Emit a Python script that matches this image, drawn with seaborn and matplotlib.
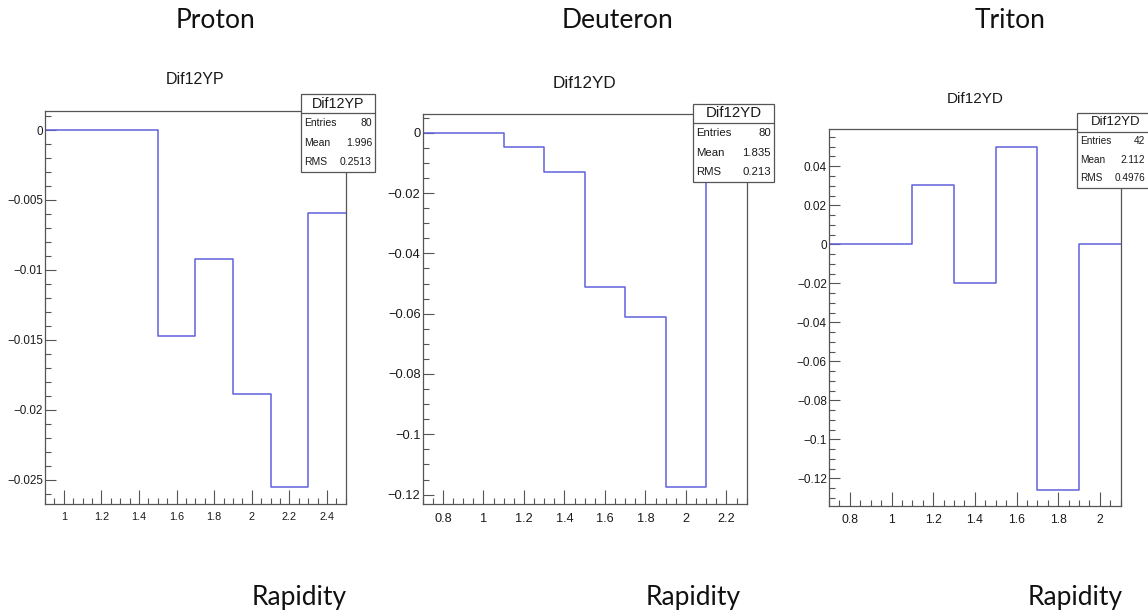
import numpy as np
import pandas as pd
import matplotlib
matplotlib.use("Agg")
import matplotlib.pyplot as plt
import seaborn as sns
from matplotlib.ticker import MultipleLocator, FuncFormatter
from matplotlib.patches import Rectangle
from matplotlib.lines import Line2D

# ---------------- data ----------------
panel_names = ["Proton", "Deuteron", "Triton"]
hist_titles = ["Dif12YP", "Dif12YD", "Dif12YD"]
x_label = "Rapidity"

proton_edges = [0.9, 1.1, 1.3, 1.5, 1.7, 1.9, 2.1, 2.3, 2.5]
proton_values = [0.0, 0.0, 0.0, -0.0147, -0.0092, -0.0189, -0.0255, -0.0059]

deuteron_edges = [0.7, 0.9, 1.1, 1.3, 1.5, 1.7, 1.9, 2.1, 2.3]
deuteron_values = [0.0, 0.0, -0.0049, -0.0129, -0.0510, -0.0610, -0.1174, -0.0100]

triton_edges = [0.7, 0.9, 1.1, 1.3, 1.5, 1.7, 1.9, 2.1]
triton_values = [0.0, 0.0, 0.0304, -0.0200, 0.0500, -0.1260, 0.0]

stat_entries = ["80", "80", "42"]
stat_means = ["1.996", "1.835", "2.112"]
stat_rms = ["0.2513", "0.213", "0.4976"]

# ---------------- layout (pixels) ----------------
W, H = 1148, 615
fig = plt.figure(figsize=(W / 100, H / 100), dpi=100)
sns.set_style("white")
plt.rcParams["font.family"] = ["Liberation Sans", "DejaVu Sans"]

def fx(px):
    return px / W

def fy(py):
    return 1 - py / H

# frame boxes: left, top, right, bottom
frames = [(45, 111, 345.7, 504), (422.7, 114.3, 746.7, 504.3), (829, 129, 1120.7, 506)]
ylims = [(-0.02675, 0.00136), (-0.1232, 0.0061), (-0.1342, 0.0591)]
xlims = [(0.9, 2.5), (0.7, 2.3), (0.7, 2.1)]
ymajor = [0.005, 0.02, 0.02]
yminor = [0.001, 0.005, 0.005]
xlabsize = [7.8, 9.2, 8.7]
ylabsize = [8.4, 9.3, 8.5]
title_pos = [(195, 79, 11.5), (585, 83, 12.3), (975, 99, 11.0)]
# stat boxes: left, top, right, bottom, separator y, header size, row size
stat_boxes = [(300.7, 94.3, 375, 172.3, 112.7, 10.3, 7.5),
              (692.7, 104, 774, 182.3, 122.7, 10.8, 8.2),
              (1076.7, 112.7, 1152, 187.7, 131.7, 9.5, 7.2)]
header_x = [216, 617, 1010]
rapidity_x = [299, 693, 1075]

all_edges = [proton_edges, deuteron_edges, triton_edges]
all_values = [proton_values, deuteron_values, triton_values]

line_color = "#6060dc"
frame_color = "#555555"
text_color = "#1a1a1a"

def fmt(v, pos):
    v = round(v, 6)
    if abs(v) < 1e-12:
        return "0"
    s = "%g" % abs(v)
    return ("\u2212" + s) if v < 0 else s

for i in range(3):
    l, t, r, b = frames[i]
    ax = fig.add_axes([fx(l), fy(b), fx(r) - fx(l), (b - t) / H])
    edges = list(all_edges[i])
    vals = list(all_values[i])
    # step outline: each bin value starts at its left edge; repeat last value at right edge
    df = pd.DataFrame({"rapidity": edges, "diff": vals + [vals[-1]]})
    sns.lineplot(data=df, x="rapidity", y="diff", estimator=None, sort=False,
                 drawstyle="steps-post", color=line_color, linewidth=1.1,
                 ax=ax, legend=False)
    ax.set_xlim(*xlims[i])
    ax.set_ylim(*ylims[i])
    ax.set_xlabel("")
    ax.set_ylabel("")
    ax.xaxis.set_major_locator(MultipleLocator(0.2))
    ax.xaxis.set_minor_locator(MultipleLocator(0.05))
    ax.yaxis.set_major_locator(MultipleLocator(ymajor[i]))
    ax.yaxis.set_minor_locator(MultipleLocator(yminor[i]))
    ax.xaxis.set_major_formatter(FuncFormatter(fmt))
    ax.yaxis.set_major_formatter(FuncFormatter(fmt))
    for s in ax.spines.values():
        s.set_color(frame_color)
        s.set_linewidth(0.9)
        s.set_visible(True)
    ax.tick_params(axis="x", which="major", direction="in", length=10, width=0.8,
                   color=frame_color, labelsize=xlabsize[i], pad=6, top=False,
                   bottom=True, labelcolor=text_color)
    ax.tick_params(axis="x", which="minor", direction="in", length=4.5, width=0.8,
                   color=frame_color, top=False, bottom=True)
    ax.tick_params(axis="y", which="major", direction="in", length=8, width=0.8,
                   color=frame_color, labelsize=ylabsize[i], pad=1.5, right=False,
                   left=True, labelcolor=text_color)
    ax.tick_params(axis="y", which="minor", direction="in", length=4, width=0.8,
                   color=frame_color, right=False, left=True)
    ax.grid(False)

    # histogram title
    tx, ty, ts = title_pos[i]
    fig.text(fx(tx), fy(ty), hist_titles[i], ha="center", va="center",
             fontsize=ts, color=text_color)

    # stat box
    bl, bt, br, bb, bsep, hs, rs = stat_boxes[i]
    rect = Rectangle((fx(bl), fy(bb)), fx(br) - fx(bl), (bb - bt) / H,
                     transform=fig.transFigure, facecolor="white",
                     edgecolor=frame_color, linewidth=0.9, zorder=5)
    fig.add_artist(rect)
    fig.add_artist(Line2D([fx(bl), fx(br)], [fy(bsep), fy(bsep)],
                          transform=fig.transFigure, color=frame_color,
                          linewidth=0.9, zorder=6))
    fig.text(fx((bl + min(br, 1148)) / 2 + (3 if i == 2 else 0)), fy((bt + bsep) / 2),
             hist_titles[i], ha="center", va="center", fontsize=hs,
             color=text_color, zorder=7)
    row_h = (bb - bsep) / 3
    labels = ["Entries", "Mean", "RMS"]
    svals = [stat_entries[i], stat_means[i], stat_rms[i]]
    vx = min(br, 1148) - 3
    for k in range(3):
        yy = bsep + row_h * (k + 0.5)
        fig.text(fx(bl + 3.5), fy(yy), labels[k], ha="left", va="center",
                 fontsize=rs, color=text_color, zorder=7)
        fig.text(fx(vx), fy(yy), svals[k], ha="right", va="center",
                 fontsize=rs, color=text_color, zorder=7)

    # slide labels
    fig.text(fx(header_x[i]), fy(21), panel_names[i], ha="center", va="center",
             fontsize=19, family=["Lato", "DejaVu Sans"], color="#111111")
    fig.text(fx(rapidity_x[i]), fy(598), x_label, ha="center", va="center",
             fontsize=19, family=["Lato", "DejaVu Sans"], color="#111111")

fig.savefig("out.png", dpi=100, facecolor="white")
